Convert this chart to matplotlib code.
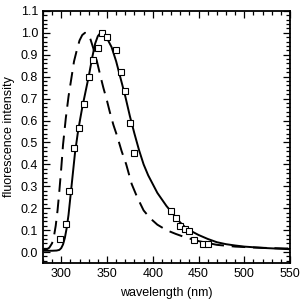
import matplotlib
matplotlib.use("Agg")
from matplotlib import pyplot as plt
from matplotlib.ticker import MultipleLocator

plt.rcParams['font.family'] = ['Liberation Sans', 'DejaVu Sans']

# solid curve
solid_x = [280, 285, 290, 295, 298, 300, 302, 304, 306, 308, 310, 312, 315, 318, 320,
           323, 326, 330, 334, 337, 340, 343, 346, 350, 355, 360, 365, 370, 375, 380,
           385, 390, 395, 400, 405, 410, 415, 420, 425, 430, 435, 440, 450, 460, 470,
           480, 490, 500, 520, 550]
solid_y = [0.006, 0.006, 0.006, 0.007, 0.010, 0.018, 0.035, 0.065, 0.11, 0.17, 0.25,
           0.33, 0.45, 0.54, 0.59, 0.66, 0.72, 0.80, 0.89, 0.95, 0.985, 1.0, 0.995, 0.975,
           0.935, 0.87, 0.79, 0.71, 0.62, 0.54, 0.465, 0.40, 0.35, 0.31, 0.27, 0.24, 0.21,
           0.185, 0.16, 0.135, 0.115, 0.10, 0.078, 0.06, 0.045, 0.036, 0.03, 0.025, 0.019, 0.013]

# dashed curve
dash_x = [280, 284, 287, 290, 292, 294, 296, 298, 300, 302, 305, 308, 311, 314, 317,
          320, 323, 326, 329, 332, 335, 339, 343, 346, 350, 353, 357, 361, 366, 371,
          377, 383, 390, 397, 405, 415, 425, 435, 450, 470, 490, 510, 530, 550]
dash_y = [0.01, 0.012, 0.02, 0.04, 0.07, 0.12, 0.19, 0.28, 0.38, 0.49, 0.61, 0.71, 0.79,
          0.87, 0.92, 0.965, 0.99, 1.0, 0.995, 0.97, 0.93, 0.87, 0.80, 0.75, 0.69, 0.64,
          0.58, 0.53, 0.46, 0.40, 0.31, 0.25, 0.19, 0.155, 0.125, 0.10, 0.083, 0.068, 0.05,
          0.033, 0.025, 0.021, 0.018, 0.016]

# square markers
sq_x = [299, 305, 309, 314, 319, 325, 330, 335, 340, 345, 350, 360, 365, 370, 375, 380,
        420, 425, 430, 435, 440, 445, 455, 460]
sq_y = [0.058, 0.13, 0.277, 0.476, 0.565, 0.676, 0.80, 0.877, 0.93, 1.0, 0.98, 0.92,
        0.82, 0.736, 0.59, 0.45, 0.186, 0.155, 0.118, 0.104, 0.096, 0.056, 0.036, 0.036]

fig = plt.figure(figsize=(3.0, 3.02), dpi=100)
ax = fig.add_axes([0.143, 0.129, 0.824, 0.835])

ax.plot(solid_x, solid_y, color='black', lw=1.4)
ax.plot(dash_x, dash_y, color='black', lw=1.4, dashes=(7, 4))
ax.plot(sq_x, sq_y, linestyle='none', marker='s', markersize=4.5,
        markerfacecolor='white', markeredgecolor='black', markeredgewidth=0.8)

ax.set_xlim(280, 550)
ax.set_ylim(-0.05, 1.1)
ax.xaxis.set_major_locator(MultipleLocator(50))
ax.xaxis.set_minor_locator(MultipleLocator(10))
ax.yaxis.set_major_locator(MultipleLocator(0.1))
ax.yaxis.set_minor_locator(MultipleLocator(0.02))
ax.yaxis.set_major_formatter(matplotlib.ticker.FormatStrFormatter('%.1f'))

ax.tick_params(which='both', direction='in', top=True, right=True, labelsize=9, width=0.9)
ax.tick_params(which='major', length=5)
ax.tick_params(which='minor', length=3)
for s in ax.spines.values():
    s.set_linewidth(1.3)

ax.set_xlabel("wavelength (nm)", fontsize=9, labelpad=5)
ax.set_ylabel("fluorescence intensity", fontsize=9, labelpad=4)

fig.savefig("out.png", dpi=100)
